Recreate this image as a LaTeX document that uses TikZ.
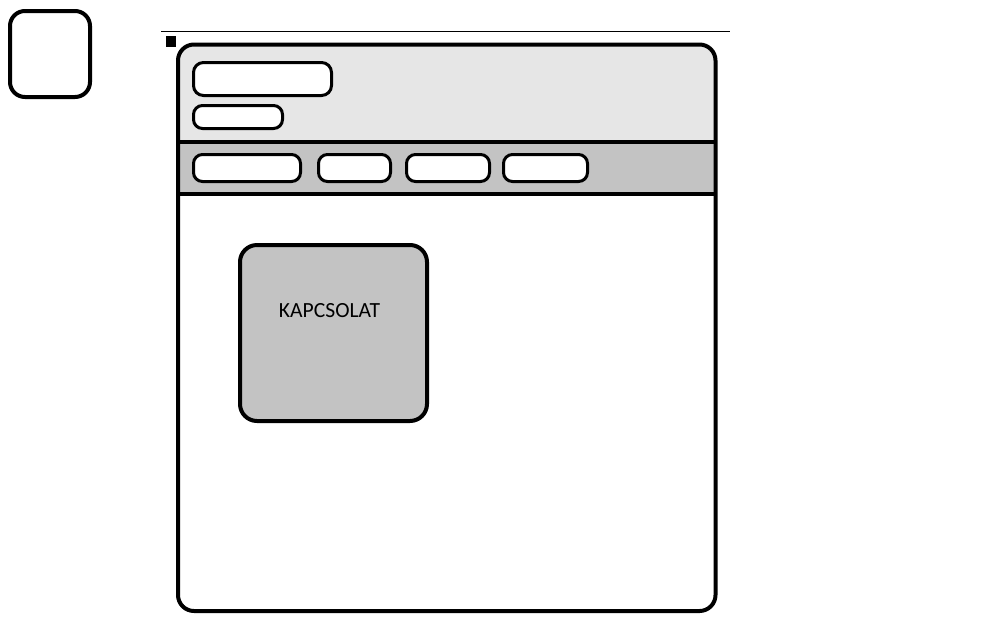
\documentclass[tikz,border=0pt]{standalone}
\usepackage{fontspec}
\setmainfont{Carlito}
\usepackage{xcolor}
\definecolor{headgrey}{HTML}{E6E6E6}
\definecolor{navgrey}{HTML}{C3C3C3}

\begin{document}
\begin{tikzpicture}[x=1pt, y=-1pt,
        pill/.style={draw, line width=3pt, fill=white, rounded corners=9pt, inner sep=0pt},
        panel/.style={draw, line width=4pt, rounded corners=16pt, inner sep=0pt}]
        \useasboundingbox (0,0) rectangle (1008,630);

        % Loose box at the top left
        \node[panel, fill=white, minimum width=80pt, minimum height=86pt, rounded corners=15pt] (icon) at (50,54) {};

        % Thin rule and marker
        \draw[line width=1pt] (161,31.5) -- (730,31.5);
        \fill (165.5,36) rectangle (176,46.5);

        % Window frame
        \begin{scope}
            \clip[rounded corners=16pt] (178,44.5) rectangle (715.5,611);
            \fill[white] (178,44.5) rectangle (715.5,611);
            \fill[headgrey] (178,44.5) rectangle (715.5,142);
            \fill[navgrey] (178,142) rectangle (715.5,194);
        \end{scope}
        \draw[line width=4pt, rounded corners=16pt] (178,44.5) rectangle (715.5,611);
        \draw[line width=4pt] (178,142) -- (715.5,142);
        \draw[line width=4pt] (178,194) -- (715.5,194);

        % Header
        \node[pill, minimum width=138pt, minimum height=33pt, rounded corners=10pt] (title) at (262.5,79) {};
        \node[pill, minimum width=89pt, minimum height=23pt] (subtitle) at (238,117) {};

        % Menu
        \node[pill, minimum width=107pt, minimum height=27pt] (menua) at (247,168) {};
        \node[pill, minimum width=72pt, minimum height=27pt] (menub) at (354.5,168) {};
        \node[pill, minimum width=83pt, minimum height=27pt] (menuc) at (448,168) {};
        \node[pill, minimum width=84pt, minimum height=27pt] (menud) at (545.5,168) {};

        % Content
        \node[panel, fill=navgrey, minimum width=187pt, minimum height=176pt, rounded corners=17pt] (contact) at (333.5,333) {};
        \node[anchor=base, inner sep=0pt, font=\fontsize{21.6pt}{25pt}\selectfont] (kapcsolat) at (329.5,317) {KAPCSOLAT};
\end{tikzpicture}
\end{document}
